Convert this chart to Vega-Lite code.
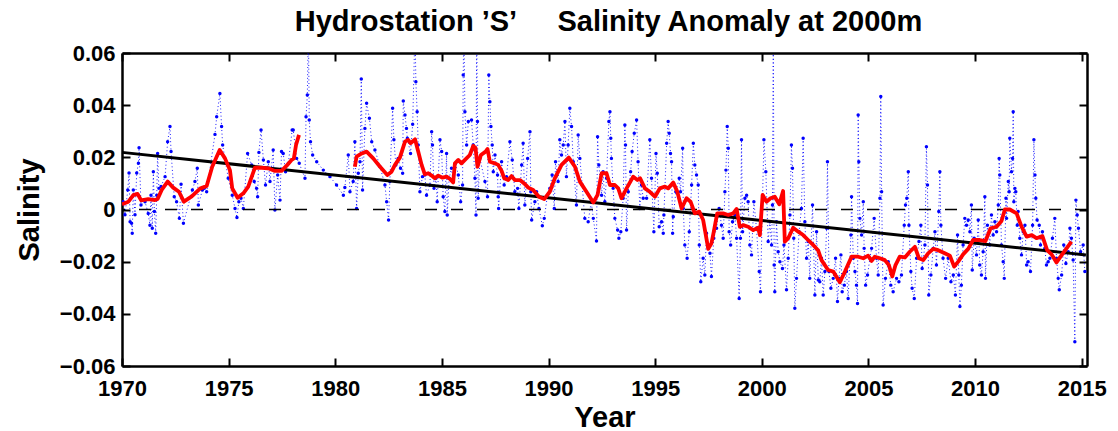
{
"$schema":"https://vega.github.io/schema/vega-lite/v6.json",
"width":965,"height":313,
"autosize":"none",
"padding":{"left":122,"top":53,"right":31,"bottom":65},
"background":"white",
"config":{"view":{"stroke":null},"font":"Liberation Sans"},
"title":{"text":"Hydrostation ’S’\u00a0\u00a0\u00a0\u00a0 Salinity Anomaly at 2000m","fontSize":29,"fontWeight":"bold","font":"Liberation Sans","color":"black","anchor":"middle","baseline":"alphabetic","offset":15,"dy":33,"dx":4},
"datasets":{
"blue":[
{"t":1970.06,"v":0.003},{"t":1970.14,"v":-0.002},{"t":1970.27,"v":0.0075},{"t":1970.33,"v":0.014},{"t":1970.38,"v":-0.0047},{"t":1970.45,"v":-0.0053},{"t":1970.48,"v":-0.0091},{"t":1970.53,"v":0.0075},{"t":1970.61,"v":-0.002},{"t":1970.69,"v":0.014},{"t":1970.77,"v":0.0177},{"t":1970.8,"v":0.0237},{"t":1970.89,"v":0.0017},{"t":1971.08,"v":0.003},{"t":1971.23,"v":-0.0015},{"t":1971.31,"v":-0.006},{"t":1971.36,"v":0.0055},{"t":1971.42,"v":-0.0072},{"t":1971.47,"v":0.0145},{"t":1971.52,"v":-0.0008},{"t":1971.58,"v":-0.0091},{"t":1971.63,"v":0.0055},{"t":1971.67,"v":0.0215},{"t":1971.73,"v":0.0081},{"t":1971.83,"v":0.0088},{"t":1972.02,"v":0.0126},{"t":1972.14,"v":0.026},{"t":1972.25,"v":0.0318},{"t":1972.3,"v":0.0222},{"t":1972.45,"v":0.0049},{"t":1972.56,"v":0.003},{"t":1972.69,"v":-0.0034},{"t":1972.77,"v":0.0097},{"t":1972.88,"v":-0.0053},{"t":1973.3,"v":0.0075},{"t":1973.42,"v":0.0107},{"t":1973.53,"v":0.0158},{"t":1973.58,"v":0.0017},{"t":1973.77,"v":0.0075},{"t":1973.86,"v":0.0081},{"t":1973.97,"v":0.0068},{"t":1974.36,"v":0.0288},{"t":1974.44,"v":0.0356},{"t":1974.59,"v":0.0445},{"t":1974.67,"v":0.0318},{"t":1974.72,"v":0.0247},{"t":1974.98,"v":0.012},{"t":1975.17,"v":0.0055},{"t":1975.3,"v":0.0004},{"t":1975.39,"v":-0.0031},{"t":1975.48,"v":0.003},{"t":1975.58,"v":0.0043},{"t":1975.69,"v":0.0004},{"t":1975.89,"v":0.0215},{"t":1976.08,"v":0.0171},{"t":1976.2,"v":0.0107},{"t":1976.31,"v":0.0081},{"t":1976.36,"v":0.0049},{"t":1976.42,"v":0.0219},{"t":1976.52,"v":0.0305},{"t":1976.63,"v":0.019},{"t":1976.73,"v":0.0094},{"t":1976.86,"v":0.0183},{"t":1976.94,"v":0.0107},{"t":1977.09,"v":0.0228},{"t":1977.17,"v":-0.0002},{"t":1977.3,"v":0.0132},{"t":1977.41,"v":0.0036},{"t":1977.48,"v":0.0222},{"t":1977.56,"v":0.0215},{"t":1977.67,"v":0.0145},{"t":1977.8,"v":0.0177},{"t":1977.98,"v":0.0305},
{"t":1978.03,"v":0.0305},{"t":1978.19,"v":0.0196},{"t":1978.31,"v":0.0177},{"t":1978.58,"v":0.012},{"t":1978.63,"v":0.0356},{"t":1978.69,"v":0.0439},{"t":1978.74,"v":0.07},{"t":1978.78,"v":0.0343},{"t":1978.84,"v":0.026},{"t":1978.94,"v":0.0209},{"t":1979.13,"v":0.0183},{"t":1979.44,"v":0.0151},{"t":1979.75,"v":0.0126},{"t":1980.06,"v":0.0094},{"t":1980.38,"v":0.0055},{"t":1980.45,"v":0.0084},{"t":1980.61,"v":0.0209},{"t":1980.69,"v":0.0068},{"t":1980.84,"v":0.0107},{"t":1980.92,"v":0.026},{"t":1981.0,"v":0.0004},{"t":1981.08,"v":0.0139},{"t":1981.16,"v":0.0183},{"t":1981.22,"v":0.05},{"t":1981.28,"v":0.0075},{"t":1981.39,"v":0.0311},{"t":1981.47,"v":0.0407},{"t":1981.6,"v":0.035},{"t":1981.71,"v":0.026},{"t":1981.86,"v":0.0228},{"t":1982.1,"v":0.0164},{"t":1982.33,"v":0.0094},{"t":1982.41,"v":0.003},{"t":1982.5,"v":-0.004},{"t":1982.56,"v":0.0107},{"t":1982.69,"v":0.0388},{"t":1982.75,"v":0.0267},{"t":1982.84,"v":0.0171},{"t":1982.95,"v":0.0196},{"t":1983.06,"v":0.0158},{"t":1983.16,"v":0.0139},{"t":1983.19,"v":0.0416},{"t":1983.27,"v":0.0362},{"t":1983.34,"v":0.0311},{"t":1983.38,"v":0.0273},{"t":1983.53,"v":0.0215},{"t":1983.63,"v":0.0327},{"t":1983.74,"v":0.07},{"t":1983.78,"v":0.049},{"t":1983.84,"v":0.0375},{"t":1983.89,"v":0.0247},{"t":1983.97,"v":0.0068},{"t":1984.09,"v":0.0126},{"t":1984.2,"v":0.0132},{"t":1984.28,"v":0.0055},{"t":1984.44,"v":0.0094},{"t":1984.52,"v":0.0298},{"t":1984.56,"v":0.0247},{"t":1984.63,"v":0.0081},{"t":1984.72,"v":0.012},{"t":1984.78,"v":0.003},{"t":1984.91,"v":0.0267},{"t":1984.99,"v":0.0222},{"t":1985.06,"v":0.0049},{"t":1985.14,"v":-0.0008},{"t":1985.22,"v":0.0215},{"t":1985.25,"v":-0.0021},{"t":1985.34,"v":0.012},{"t":1985.45,"v":0.0158},{"t":1985.53,"v":0.0107},{"t":1985.64,"v":0.0177},{"t":1985.77,"v":0.0132},{"t":1985.88,"v":0.003},{"t":1985.97,"v":0.0094},{"t":1986.0,"v":0.0516},{"t":1986.03,"v":0.07},{"t":1986.08,"v":0.0375},{"t":1986.16,"v":0.0247},
{"t":1986.24,"v":0.0337},{"t":1986.39,"v":0.0343},{"t":1986.47,"v":0.0247},{"t":1986.55,"v":0.012},{"t":1986.6,"v":-0.0021},{"t":1986.63,"v":0.07},{"t":1986.67,"v":0.0337},{"t":1986.7,"v":0.0043},{"t":1986.78,"v":0.0196},{"t":1987.02,"v":0.0107},{"t":1987.14,"v":0.0049},{"t":1987.2,"v":0.0516},{"t":1987.25,"v":0.0413},{"t":1987.3,"v":0.0318},{"t":1987.36,"v":0.0247},{"t":1987.41,"v":0.0145},{"t":1987.49,"v":0.0209},{"t":1987.61,"v":0.0132},{"t":1987.64,"v":0.0049},{"t":1987.66,"v":0.0004},{"t":1987.8,"v":0.0183},{"t":1987.92,"v":0.0094},{"t":1988.03,"v":0.0126},{"t":1988.19,"v":0.026},{"t":1988.3,"v":0.019},{"t":1988.42,"v":0.0068},{"t":1988.55,"v":0.0081},{"t":1988.61,"v":0.0004},{"t":1988.74,"v":0.0171},{"t":1988.81,"v":0.0254},{"t":1988.89,"v":0.0017},{"t":1989.02,"v":0.0196},{"t":1989.13,"v":0.0298},{"t":1989.17,"v":0.0068},{"t":1989.21,"v":-0.004},{"t":1989.36,"v":0.003},{"t":1989.44,"v":0.0068},{"t":1989.55,"v":0.0004},{"t":1989.71,"v":-0.0062},{"t":1989.8,"v":-0.0034},{"t":1989.95,"v":0.0055},{"t":1990.06,"v":0.0081},{"t":1990.17,"v":0.0132},{"t":1990.27,"v":0.0004},{"t":1990.33,"v":0.0183},{"t":1990.45,"v":0.0107},{"t":1990.53,"v":0.0267},{"t":1990.61,"v":0.0209},{"t":1990.69,"v":0.0247},{"t":1990.77,"v":0.0337},{"t":1990.84,"v":0.0126},{"t":1990.92,"v":0.0247},{"t":1991.0,"v":0.0388},{"t":1991.08,"v":0.0318},{"t":1991.16,"v":0.0183},{"t":1991.31,"v":0.0017},{"t":1991.39,"v":0.0286},{"t":1991.47,"v":0.0196},{"t":1991.58,"v":0.0094},{"t":1991.7,"v":-0.0034},{"t":1991.86,"v":-0.0047},{"t":1992.0,"v":0.003},{"t":1992.1,"v":-0.0034},{"t":1992.25,"v":-0.0121},{"t":1992.3,"v":0.0279},{"t":1992.36,"v":0.0171},{"t":1992.49,"v":0.0055},{"t":1992.56,"v":0.0145},{"t":1992.64,"v":0.003},{"t":1992.72,"v":0.012},{"t":1992.83,"v":0.0337},{"t":1992.88,"v":0.0375},{"t":1992.92,"v":0.0273},{"t":1992.95,"v":0.0196},{"t":1993.03,"v":0.0081},{"t":1993.11,"v":-0.0034},{"t":1993.24,"v":-0.0079},{"t":1993.3,"v":-0.011},{"t":1993.39,"v":-0.0085},{"t":1993.5,"v":0.0043},{"t":1993.58,"v":0.0324},{"t":1993.61,"v":0.0247},{"t":1993.66,"v":-0.0079},{"t":1993.74,"v":0.0068},{"t":1993.85,"v":0.0145},{"t":1993.92,"v":0.0222},{"t":1994.02,"v":0.0292},{"t":1994.13,"v":0.0343},{"t":1994.2,"v":0.0183},{"t":1994.28,"v":0.0004},{"t":1994.36,"v":0.0094},{"t":1994.44,"v":0.0043},
{"t":1994.6,"v":0.0043},{"t":1994.75,"v":0.0267},{"t":1994.83,"v":0.012},{"t":1994.94,"v":-0.0085},{"t":1995.04,"v":0.0215},{"t":1995.1,"v":0.0139},{"t":1995.19,"v":-0.0066},{"t":1995.3,"v":-0.0047},{"t":1995.38,"v":-0.0091},{"t":1995.41,"v":-0.0021},{"t":1995.54,"v":0.0254},{"t":1995.61,"v":0.0337},{"t":1995.66,"v":0.0292},{"t":1995.72,"v":0.0215},{"t":1995.77,"v":0.0183},{"t":1995.82,"v":-0.0091},{"t":1995.85,"v":-0.0028},{"t":1995.97,"v":0.0068},{"t":1996.13,"v":0.012},{"t":1996.19,"v":0.0068},{"t":1996.29,"v":0.0235},{"t":1996.32,"v":0.0004},{"t":1996.39,"v":-0.0136},{"t":1996.5,"v":-0.0187},{"t":1996.6,"v":-0.0085},{"t":1996.71,"v":0.0094},{"t":1996.79,"v":0.0254},{"t":1996.86,"v":0.0171},{"t":1996.94,"v":0.0132},{"t":1997.02,"v":0.0094},{"t":1997.07,"v":-0.0136},{"t":1997.14,"v":-0.0277},{"t":1997.25,"v":-0.0187},{"t":1997.33,"v":-0.0251},{"t":1997.41,"v":-0.0091},{"t":1997.57,"v":-0.0168},{"t":1997.64,"v":-0.0257},{"t":1997.75,"v":-0.011},{"t":1997.88,"v":-0.0072},{"t":1998.0,"v":0.0004},{"t":1998.11,"v":-0.006},{"t":1998.19,"v":-0.011},{"t":1998.27,"v":0.0068},{"t":1998.32,"v":0.0151},{"t":1998.38,"v":0.0318},{"t":1998.43,"v":0.0235},{"t":1998.47,"v":-0.0085},{"t":1998.54,"v":-0.0136},{"t":1998.63,"v":-0.0047},{"t":1998.74,"v":-0.0021},{"t":1998.82,"v":-0.011},{"t":1998.94,"v":-0.0341},{"t":1999.0,"v":-0.011},{"t":1999.05,"v":0.0267},{"t":1999.1,"v":-0.0085},{"t":1999.21,"v":0.0043},{"t":1999.29,"v":0.0055},{"t":1999.36,"v":0.003},{"t":1999.44,"v":-0.0136},{"t":1999.52,"v":-0.0174},{"t":1999.63,"v":0.003},{"t":1999.75,"v":-0.0072},{"t":1999.88,"v":-0.0238},{"t":1999.94,"v":-0.0315},{"t":2000.04,"v":0.0055},{"t":2000.1,"v":0.0267},{"t":2000.19,"v":0.0145},{"t":2000.3,"v":-0.0123},{"t":2000.38,"v":-0.0047},{"t":2000.46,"v":-0.0136},{"t":2000.5,"v":0.0017},{"t":2000.54,"v":0.07},{"t":2000.58,"v":-0.0213},{"t":2000.61,"v":-0.0315},{"t":2000.69,"v":-0.0047},{"t":2000.77,"v":-0.0162},{"t":2000.85,"v":-0.02},{"t":2000.97,"v":-0.0226},{"t":2001.04,"v":-0.0136},{"t":2001.16,"v":-0.0308},{"t":2001.24,"v":-0.0187},{"t":2001.32,"v":-0.0021},{"t":2001.39,"v":0.0247},{"t":2001.44,"v":0.0158},{"t":2001.5,"v":-0.011},{"t":2001.55,"v":-0.0379},{"t":2001.63,"v":-0.0264},{"t":2001.75,"v":-0.0085},{"t":2001.86,"v":0.0004},{"t":2001.94,"v":0.0273},{"t":2002.02,"v":-0.0047},{"t":2002.1,"v":-0.0187},{"t":2002.18,"v":-0.0123},{"t":2002.25,"v":-0.0264},{"t":2002.38,"v":0.0017},{"t":2002.49,"v":-0.0328},
{"t":2002.57,"v":-0.0085},{"t":2002.65,"v":-0.027},{"t":2002.72,"v":-0.0277},{"t":2002.8,"v":-0.0187},{"t":2002.88,"v":-0.0328},{"t":2002.96,"v":-0.0238},{"t":2003.04,"v":-0.0072},{"t":2003.08,"v":0.0183},{"t":2003.15,"v":-0.0238},{"t":2003.24,"v":-0.0302},{"t":2003.35,"v":-0.0264},{"t":2003.46,"v":-0.0187},{"t":2003.55,"v":-0.0353},{"t":2003.62,"v":-0.0264},{"t":2003.71,"v":-0.0174},{"t":2003.77,"v":-0.0315},{"t":2003.87,"v":-0.029},{"t":2003.97,"v":-0.0238},{"t":2004.05,"v":-0.0341},{"t":2004.18,"v":-0.0098},{"t":2004.21,"v":0.0049},{"t":2004.29,"v":-0.0187},{"t":2004.37,"v":-0.0238},{"t":2004.44,"v":-0.029},{"t":2004.49,"v":-0.036},{"t":2004.52,"v":0.0362},{"t":2004.55,"v":0.0183},{"t":2004.6,"v":-0.0034},{"t":2004.68,"v":-0.0098},{"t":2004.76,"v":0.003},{"t":2004.8,"v":-0.0149},{"t":2004.87,"v":-0.029},{"t":2004.96,"v":-0.0251},{"t":2005.07,"v":-0.0187},{"t":2005.15,"v":-0.0149},{"t":2005.27,"v":-0.0034},{"t":2005.38,"v":-0.0187},{"t":2005.46,"v":-0.0251},{"t":2005.54,"v":0.0043},{"t":2005.58,"v":0.0433},{"t":2005.62,"v":0.0068},{"t":2005.69,"v":-0.0366},{"t":2005.8,"v":-0.0264},{"t":2005.93,"v":-0.02},{"t":2006.05,"v":-0.029},{"t":2006.16,"v":-0.0315},{"t":2006.32,"v":-0.0264},{"t":2006.43,"v":-0.0277},{"t":2006.55,"v":-0.0251},{"t":2006.68,"v":-0.006},{"t":2006.74,"v":0.0017},{"t":2006.8,"v":0.0043},{"t":2006.87,"v":0.0145},{"t":2006.9,"v":-0.006},{"t":2006.99,"v":-0.0238},{"t":2007.05,"v":-0.0302},{"t":2007.15,"v":-0.0341},{"t":2007.26,"v":-0.0187},{"t":2007.37,"v":-0.0123},{"t":2007.46,"v":-0.006},{"t":2007.52,"v":-0.0226},{"t":2007.65,"v":-0.0136},{"t":2007.72,"v":0.0241},{"t":2007.77,"v":0.0094},{"t":2007.83,"v":-0.0328},{"t":2007.93,"v":-0.0251},{"t":2008.04,"v":-0.0149},{"t":2008.12,"v":-0.0085},{"t":2008.19,"v":-0.0213},{"t":2008.3,"v":-0.0008},{"t":2008.35,"v":0.0145},{"t":2008.4,"v":-0.006},{"t":2008.5,"v":-0.0187},{"t":2008.62,"v":-0.0264},{"t":2008.74,"v":-0.0187},{"t":2008.87,"v":-0.0277},{"t":2008.98,"v":-0.0251},{"t":2009.08,"v":-0.0328},{"t":2009.18,"v":-0.0098},{"t":2009.24,"v":-0.0251},{"t":2009.29,"v":-0.0372},{"t":2009.36,"v":-0.029},{"t":2009.44,"v":-0.0136},{"t":2009.52,"v":-0.0034},{"t":2009.6,"v":-0.006},{"t":2009.68,"v":-0.004},{"t":2009.76,"v":-0.0085},{"t":2009.83,"v":0.0017},{"t":2009.87,"v":-0.0232},{"t":2009.96,"v":-0.011},{"t":2010.07,"v":-0.0174},{"t":2010.15,"v":-0.004},{"t":2010.22,"v":-0.0213},{"t":2010.3,"v":-0.0251},{"t":2010.38,"v":-0.0162},{"t":2010.46,"v":0.0049},{"t":2010.49,"v":-0.0264},{"t":2010.58,"v":-0.006},{"t":2010.69,"v":-0.0136},{"t":2010.77,"v":-0.0021},{"t":2010.85,"v":-0.0098},
{"t":2010.93,"v":-0.0047},{"t":2011.01,"v":-0.0085},{"t":2011.09,"v":0.0017},{"t":2011.13,"v":0.0196},{"t":2011.16,"v":0.0132},{"t":2011.24,"v":-0.0136},{"t":2011.32,"v":-0.02},{"t":2011.37,"v":-0.0264},{"t":2011.45,"v":0.0043},{"t":2011.48,"v":-0.0034},{"t":2011.56,"v":0.0107},{"t":2011.6,"v":0.0068},{"t":2011.63,"v":0.0273},{"t":2011.71,"v":0.0145},{"t":2011.76,"v":0.0196},{"t":2011.79,"v":0.0375},{"t":2011.82,"v":0.003},{"t":2011.87,"v":0.0081},{"t":2011.91,"v":0.0068},{"t":2011.98,"v":-0.006},{"t":2012.02,"v":-0.0008},{"t":2012.1,"v":-0.011},{"t":2012.18,"v":-0.0174},{"t":2012.26,"v":-0.0085},{"t":2012.34,"v":-0.006},{"t":2012.42,"v":-0.0213},{"t":2012.49,"v":-0.02},{"t":2012.6,"v":-0.0238},{"t":2012.7,"v":-0.006},{"t":2012.76,"v":0.0267},{"t":2012.81,"v":0.0132},{"t":2012.85,"v":0.0043},{"t":2012.91,"v":-0.004},{"t":2013.01,"v":-0.006},{"t":2013.07,"v":-0.0136},{"t":2013.16,"v":-0.0085},{"t":2013.27,"v":-0.0149},{"t":2013.35,"v":-0.0213},{"t":2013.43,"v":-0.02},{"t":2013.51,"v":-0.0187},{"t":2013.63,"v":-0.011},{"t":2013.74,"v":-0.0034},{"t":2013.82,"v":-0.0187},{"t":2013.9,"v":-0.0264},{"t":2013.95,"v":-0.0308},{"t":2014.06,"v":-0.0251},{"t":2014.16,"v":-0.0136},{"t":2014.26,"v":-0.0207},{"t":2014.37,"v":-0.0162},{"t":2014.45,"v":-0.0072},{"t":2014.52,"v":-0.011},{"t":2014.6,"v":-0.0194},{"t":2014.68,"v":-0.0507},{"t":2014.73,"v":0.0036},{"t":2014.79,"v":-0.0021},{"t":2014.85,"v":-0.0072},{"t":2014.95,"v":-0.0162},{"t":2015.07,"v":-0.0136},{"t":2015.15,"v":-0.0238}
],
"red":[
{"t":1970.0,"v":0.002,"s":1},{"t":1970.3,"v":0.003,"s":1},{"t":1970.53,"v":0.0055,"s":1},{"t":1970.73,"v":0.006,"s":1},{"t":1970.9,"v":0.0035,"s":1},{"t":1971.23,"v":0.004,"s":1},{"t":1971.55,"v":0.0036,"s":1},{"t":1971.67,"v":0.004,"s":1},{"t":1971.86,"v":0.0075,"s":1},{"t":1972.14,"v":0.0107,"s":1},{"t":1972.4,"v":0.0084,"s":1},{"t":1972.67,"v":0.0068,"s":1},{"t":1972.9,"v":0.003,"s":1},{"t":1973.27,"v":0.005,"s":1},{"t":1973.66,"v":0.008,"s":1},{"t":1973.97,"v":0.009,"s":1},{"t":1974.23,"v":0.0164,"s":1},{"t":1974.58,"v":0.0228,"s":1},{"t":1974.83,"v":0.0196,"s":1},{"t":1975.06,"v":0.0151,"s":1},{"t":1975.17,"v":0.0081,"s":1},{"t":1975.42,"v":0.0045,"s":1},{"t":1975.69,"v":0.0062,"s":1},{"t":1975.92,"v":0.0088,"s":1},{"t":1976.23,"v":0.016,"s":1},{"t":1976.55,"v":0.016,"s":1},{"t":1976.86,"v":0.0158,"s":1},{"t":1977.17,"v":0.0148,"s":1},{"t":1977.48,"v":0.0148,"s":1},{"t":1977.72,"v":0.0168,"s":1},{"t":1977.95,"v":0.019,"s":1},{"t":1978.06,"v":0.0196,"s":1},{"t":1978.16,"v":0.0247,"s":1},{"t":1978.3,"v":0.0286,"s":1},
{"t":1980.92,"v":0.0164,"s":2},{"t":1981.0,"v":0.0203,"s":2},{"t":1981.24,"v":0.0215,"s":2},{"t":1981.47,"v":0.0222,"s":2},{"t":1981.78,"v":0.0196,"s":2},{"t":1982.1,"v":0.0164,"s":2},{"t":1982.44,"v":0.0132,"s":2},{"t":1982.64,"v":0.0145,"s":2},{"t":1982.8,"v":0.0171,"s":2},{"t":1983.03,"v":0.0199,"s":2},{"t":1983.27,"v":0.026,"s":2},{"t":1983.42,"v":0.0267,"s":2},{"t":1983.53,"v":0.0254,"s":2},{"t":1983.74,"v":0.0269,"s":2},{"t":1983.89,"v":0.0222,"s":2},{"t":1984.05,"v":0.0171,"s":2},{"t":1984.2,"v":0.0135,"s":2},{"t":1984.36,"v":0.0139,"s":2},{"t":1984.52,"v":0.013,"s":2},{"t":1984.67,"v":0.012,"s":2},{"t":1984.83,"v":0.013,"s":2},{"t":1985.03,"v":0.0122,"s":2},{"t":1985.22,"v":0.0126,"s":2},{"t":1985.38,"v":0.0117,"s":2},{"t":1985.53,"v":0.0104,"s":2},{"t":1985.61,"v":0.0177,"s":2},{"t":1985.77,"v":0.019,"s":2},{"t":1985.92,"v":0.0177,"s":2},{"t":1986.08,"v":0.019,"s":2},{"t":1986.31,"v":0.0209,"s":2},{"t":1986.47,"v":0.0244,"s":2},{"t":1986.58,"v":0.0235,"s":2},{"t":1986.67,"v":0.0164,"s":2},{"t":1986.83,"v":0.0209,"s":2},{"t":1987.05,"v":0.0222,"s":2},{"t":1987.14,"v":0.0232,"s":2},{"t":1987.25,"v":0.0183,"s":2},{"t":1987.49,"v":0.0177,"s":2},{"t":1987.64,"v":0.0171,"s":2},{"t":1987.8,"v":0.0148,"s":2},{"t":1987.92,"v":0.012,"s":2},{"t":1988.11,"v":0.0113,"s":2},{"t":1988.27,"v":0.0128,"s":2},{"t":1988.42,"v":0.0113,"s":2},{"t":1988.66,"v":0.0113,"s":2},{"t":1988.86,"v":0.01,"s":2},{"t":1989.05,"v":0.0084,"s":2},{"t":1989.28,"v":0.0075,"s":2},{"t":1989.55,"v":0.0049,"s":2},{"t":1989.8,"v":0.004,"s":2},{"t":1990.06,"v":0.0068,"s":2},{"t":1990.3,"v":0.012,"s":2},{"t":1990.61,"v":0.0171,"s":2},{"t":1990.95,"v":0.0199,"s":2},{"t":1991.24,"v":0.0164,"s":2},{"t":1991.47,"v":0.0107,"s":2},{"t":1991.78,"v":0.0068,"s":2},{"t":1992.1,"v":0.0027,"s":2},{"t":1992.3,"v":0.0056,"s":2},{"t":1992.49,"v":0.0139,"s":2},{"t":1992.72,"v":0.0139,"s":2},{"t":1992.88,"v":0.0094,"s":2},{"t":1993.11,"v":0.0094,"s":2},{"t":1993.27,"v":0.0081,"s":2},{"t":1993.42,"v":0.0043,"s":2},{"t":1993.66,"v":0.0081,"s":2},{"t":1993.97,"v":0.0126,"s":2},{"t":1994.17,"v":0.0113,"s":2},{"t":1994.29,"v":0.012,"s":2},{"t":1994.52,"v":0.0081,"s":2},{"t":1994.75,"v":0.0068,"s":2},{"t":1994.99,"v":0.0049,"s":2},{"t":1995.22,"v":0.0081,"s":2},{"t":1995.46,"v":0.0088,"s":2},{"t":1995.61,"v":0.0081,"s":2},{"t":1995.85,"v":0.0103,"s":2},{"t":1996.04,"v":0.0068,"s":2},{"t":1996.24,"v":0.0004,"s":2},{"t":1996.47,"v":0.0043,"s":2},{"t":1996.66,"v":0.003,"s":2},{"t":1996.86,"v":-0.0015,"s":2},{"t":1997.07,"v":-0.0008,"s":2},{"t":1997.25,"v":-0.004,"s":2},{"t":1997.49,"v":-0.0151,"s":2},{"t":1997.64,"v":-0.013,"s":2},{"t":1997.75,"v":-0.0085,"s":2},{"t":1997.91,"v":-0.0015,"s":2},{"t":1998.19,"v":-0.0015,"s":2},{"t":1998.43,"v":-0.0021,"s":2},{"t":1998.66,"v":-0.0015,"s":2},{"t":1998.82,"v":0.0002,"s":2},{"t":1998.97,"v":-0.0066,"s":2},{"t":1999.13,"v":-0.006,"s":2},{"t":1999.36,"v":-0.0066,"s":2},{"t":1999.6,"v":-0.0079,"s":2},{"t":1999.83,"v":-0.007,"s":2},{"t":1999.91,"v":-0.0098,"s":2},{"t":2000.04,"v":0.0056,"s":2},{"t":2000.22,"v":0.003,"s":2},{"t":2000.41,"v":0.0043,"s":2},{"t":2000.61,"v":0.0049,"s":2},{"t":2000.82,"v":0.002,"s":2},{"t":2001.0,"v":0.0071,"s":2},{"t":2001.08,"v":-0.0123,"s":2},{"t":2001.24,"v":-0.011,"s":2},{"t":2001.47,"v":-0.007,"s":2},{"t":2001.71,"v":-0.0085,"s":2},{"t":2001.94,"v":-0.0098,"s":2},{"t":2002.17,"v":-0.0117,"s":2},{"t":2002.41,"v":-0.0136,"s":2},{"t":2002.64,"v":-0.0156,"s":2},{"t":2002.8,"v":-0.0194,"s":2},{"t":2003.11,"v":-0.0232,"s":2},{"t":2003.35,"v":-0.0238,"s":2},{"t":2003.66,"v":-0.0279,"s":2},{"t":2003.9,"v":-0.0238,"s":2},{"t":2004.21,"v":-0.0181,"s":2},{"t":2004.52,"v":-0.0181,"s":2},{"t":2004.76,"v":-0.0187,"s":2},{"t":2004.99,"v":-0.0177,"s":2},{"t":2005.15,"v":-0.0197,"s":2},{"t":2005.3,"v":-0.0181,"s":2},{"t":2005.54,"v":-0.0187,"s":2},{"t":2005.77,"v":-0.0194,"s":2},{"t":2005.96,"v":-0.0213,"s":2},{"t":2006.12,"v":-0.0257,"s":2},{"t":2006.27,"v":-0.0213,"s":2},{"t":2006.47,"v":-0.0181,"s":2},{"t":2006.71,"v":-0.0184,"s":2},{"t":2006.94,"v":-0.0162,"s":2},{"t":2007.18,"v":-0.0143,"s":2},{"t":2007.37,"v":-0.0187,"s":2},{"t":2007.57,"v":-0.0194,"s":2},{"t":2007.8,"v":-0.0168,"s":2},{"t":2008.04,"v":-0.0151,"s":2},{"t":2008.27,"v":-0.0156,"s":2},{"t":2008.58,"v":-0.0168,"s":2},{"t":2008.82,"v":-0.0177,"s":2},{"t":2009.02,"v":-0.0219,"s":2},{"t":2009.21,"v":-0.02,"s":2},{"t":2009.44,"v":-0.0172,"s":2},{"t":2009.68,"v":-0.0151,"s":2},{"t":2009.91,"v":-0.0117,"s":2},{"t":2010.22,"v":-0.0117,"s":2},{"t":2010.49,"v":-0.0121,"s":2},{"t":2010.73,"v":-0.0072,"s":2},{"t":2011.01,"v":-0.0066,"s":2},{"t":2011.24,"v":-0.0044,"s":2},{"t":2011.4,"v":0.0,"s":2},{"t":2011.63,"v":0.0,"s":2},{"t":2011.95,"v":-0.0015,"s":2},{"t":2012.18,"v":-0.0066,"s":2},{"t":2012.42,"v":-0.0104,"s":2},{"t":2012.66,"v":-0.0098,"s":2},{"t":2012.88,"v":-0.011,"s":2},{"t":2013.16,"v":-0.0102,"s":2},{"t":2013.38,"v":-0.0156,"s":2},{"t":2013.59,"v":-0.0172,"s":2},{"t":2013.82,"v":-0.0203,"s":2},{"t":2014.06,"v":-0.0175,"s":2},{"t":2014.29,"v":-0.0149,"s":2},{"t":2014.52,"v":-0.0123,"s":2}
],
"trend":[{"t":1970.0,"v":0.0219},{"t":2015.2,"v":-0.0174}]
},
"layer":[
{"data":{"name":"blue"},"mark":{"type":"line","color":"#0000FF","strokeWidth":0.9,"strokeDash":[1,2.6],"clip":true},
 "encoding":{
  "x":{"field":"t","type":"quantitative","scale":{"domain":[1970,2015.25],"nice":false,"zero":false},
   "axis":{"orient":"bottom","values":[1970,1975,1980,1985,1990,1995,2000,2005,2010,2015],"format":"d","grid":false,"tickSize":-8,"tickWidth":2,"tickColor":"black","domainColor":"black","domainWidth":2.5,"labelFont":"Liberation Sans","labelFontSize":22,"labelFontWeight":"bold","labelColor":"black","labelPadding":20,"labelFlush":false,"labelOverlap":false,"title":"Year","titleFont":"Liberation Sans","titleFontSize":29,"titleFontWeight":"bold","titleColor":"black","titleBaseline":"alphabetic","titleY":60}},
  "y":{"field":"v","type":"quantitative","scale":{"domain":[-0.06,0.06],"nice":false,"zero":false},
   "axis":{"orient":"left","values":[-0.06,-0.04,-0.02,0,0.02,0.04,0.06],"labelExpr":"datum.value == 0 ? '0' : format(datum.value, '.2f')","grid":false,"tickSize":-8,"tickWidth":2,"tickColor":"black","domainColor":"black","domainWidth":2.5,"labelFont":"Liberation Sans","labelFontSize":22,"labelFontWeight":"bold","labelColor":"black","labelPadding":15,"labelFlush":false,"labelOverlap":false,"title":"Salinity","titleFont":"Liberation Sans","titleFontSize":29,"titleFontWeight":"bold","titleColor":"black","titleBaseline":"alphabetic","titleAlign":"center","titleX":-84,"titleY":156.5}}
 }},
{"data":{"name":"blue"},"mark":{"type":"point","filled":true,"color":"#0000FF","size":12,"opacity":1,"clip":true},
 "encoding":{"x":{"field":"t","type":"quantitative","axis":null},"y":{"field":"v","type":"quantitative","axis":null}}},
{"data":{"values":[{"z":0}]},"mark":{"type":"rule","color":"black","strokeWidth":1.6,"strokeDash":[12,14]},
 "encoding":{"y":{"field":"z","type":"quantitative","axis":null}}},
{"data":{"name":"trend"},"mark":{"type":"line","color":"black","strokeWidth":3},
 "encoding":{
  "x":{"field":"t","type":"quantitative","axis":{"orient":"top","values":[1970,1975,1980,1985,1990,1995,2000,2005,2010,2015],"labels":false,"grid":false,"tickSize":-8,"tickWidth":2,"tickColor":"black","domainColor":"black","domainWidth":2.5,"title":null}},
  "y":{"field":"v","type":"quantitative","axis":{"orient":"right","values":[-0.06,-0.04,-0.02,0,0.02,0.04,0.06],"labels":false,"grid":false,"tickSize":-8,"tickWidth":2,"tickColor":"black","domainColor":"black","domainWidth":2.5,"title":null}}
 }},
{"data":{"name":"red"},"mark":{"type":"line","color":"#FF0000","strokeWidth":3.8,"strokeJoin":"round","clip":true},
 "encoding":{"x":{"field":"t","type":"quantitative","axis":null},"y":{"field":"v","type":"quantitative","axis":null},"detail":{"field":"s","type":"nominal"}}}
],
"resolve":{"axis":{"x":"independent","y":"independent"}}
}
